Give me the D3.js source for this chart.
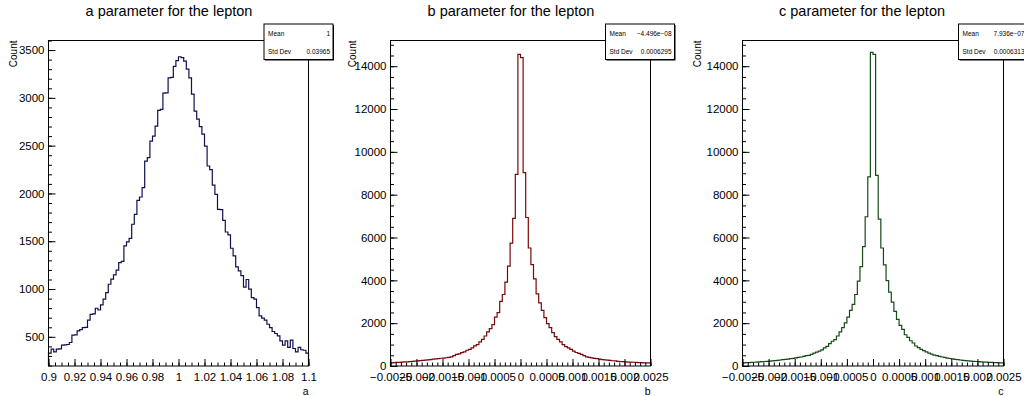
<!DOCTYPE html>
<html>
<head>
<meta charset="utf-8">
<script src="https://cdn.jsdelivr.net/npm/d3@7"></script>
<style>
body{margin:0;background:#fff}
svg{display:block}
text{font-family:"Liberation Sans",Arial,Helvetica,sans-serif}
</style>
</head>
<body>
<svg id="chart" width="1024" height="396"></svg>
<script>
// ---- data ----
const titles = ["a parameter for the lepton", "b parameter for the lepton", "c parameter for the lepton"];
const axisNames = ["a", "b", "c"];
const yTitle = "Count";

const aRange = [0.9, 1.1];
const bRange = [-0.0025, 0.0025];
const cRange = [-0.0025, 0.0025];

const aCounts = [
  330, 371, 343, 371, 375, 413, 415, 420, 441, 517,
  520, 563, 575, 597, 600, 674, 736, 740, 799, 781,
  834, 894, 963, 1050, 1103, 1148, 1197, 1277, 1290, 1451,
  1493, 1531, 1678, 1782, 1928, 1963, 2060, 2339, 2374, 2548,
  2600, 2705, 2870, 2880, 3050, 3053, 3210, 3215, 3330, 3390,
  3430, 3420, 3384, 3300, 3210, 3040, 2862, 2778, 2700, 2621,
  2496, 2287, 2250, 2087, 1990, 1834, 1830, 1719, 1597, 1566,
  1427, 1347, 1232, 1190, 1140, 1020, 1100, 1000, 911, 894,
  806, 719, 695, 674, 632, 597, 556, 535, 510, 458,
  413, 458, 389, 465, 378, 343, 389, 365, 360, 330
];
const bCounts = [
  150, 160, 165, 172, 180, 188, 196, 205, 215, 225,
  238, 250, 262, 272, 290, 300, 318, 330, 348, 362,
  372, 385, 400, 430, 480, 540, 570, 620, 660, 735,
  780, 845, 940, 1000, 1125, 1245, 1400, 1590, 1745, 1930,
  2285, 2490, 3015, 3340, 3915, 4660, 5740, 6890, 8950, 14550,
  14400, 9030, 6935, 5510, 4735, 4070, 3370, 2950, 2595, 2255,
  1975, 1790, 1560, 1370, 1245, 1125, 1000, 905, 845, 780,
  690, 630, 585, 540, 480, 430, 400, 380, 355, 340,
  320, 300, 290, 270, 260, 245, 235, 220, 210, 205,
  195, 185, 180, 175, 165, 160, 155, 150, 150, 145
];
const cCounts = [
  150, 155, 160, 170, 175, 185, 190, 200, 210, 220,
  230, 240, 255, 265, 280, 295, 310, 325, 345, 360,
  380, 400, 420, 450, 480, 500, 540, 600, 645, 690,
  750, 845, 920, 1045, 1155, 1230, 1400, 1590, 1790, 2010,
  2285, 2595, 2875, 3340, 3960, 4640, 5570, 6970, 8830, 14650,
  14550, 8905, 6860, 5510, 4720, 3990, 3450, 2985, 2550, 2180,
  1900, 1710, 1460, 1335, 1180, 1075, 935, 860, 780, 720,
  660, 600, 555, 510, 480, 450, 420, 400, 370, 350,
  330, 310, 295, 280, 265, 250, 240, 230, 220, 210,
  200, 195, 185, 180, 170, 165, 160, 155, 150, 145
];

const aXTicks = [0.9, 0.92, 0.94, 0.96, 0.98, 1, 1.02, 1.04, 1.06, 1.08, 1.1];
const aXTickLabels = ["0.9", "0.92", "0.94", "0.96", "0.98", "1", "1.02", "1.04", "1.06", "1.08", "1.1"];
const bcXTicks = [-0.0025, -0.002, -0.0015, -0.001, -0.0005, 0, 0.0005, 0.001, 0.0015, 0.002, 0.0025];
const bcXTickLabels = ["\u22120.0025", "\u22120.002", "\u22120.0015", "\u22120.001", "\u22120.0005", "0",
                       "0.0005", "0.001", "0.0015", "0.002", "0.0025"];
const aYTicks = [500, 1000, 1500, 2000, 2500, 3000, 3500];
const bcYTicks = [0, 2000, 4000, 6000, 8000, 10000, 12000, 14000];

const aYDomain = [195, 3600];
const bcYDomain = [0, 15200];

const meanLabels = ["1", "\u22124.496e\u221208", "7.936e\u221207"];
const stdLabels = ["0.03965", "0.0006295", "0.0006313"];

// ---- layout ----
const frameTop = 40.5, frameBottom = 366;
const panels = [
  {counts: aCounts, range: aRange, xTicks: aXTicks, xLabels: aXTickLabels, xMinor: 0.005,
   yTicks: aYTicks, yDomain: aYDomain, yMinor: 100,
   left: 48.5, right: 308.5, boxX: 264, titleX: 169, countX: 17, color: "#10104f"},
  {counts: bCounts, range: bRange, xTicks: bcXTicks, xLabels: bcXTickLabels, xMinor: 0.0001,
   yTicks: bcYTicks, yDomain: bcYDomain, yMinor: 500,
   left: 390.5, right: 650.5, boxX: 605.5, titleX: 511, countX: 356, color: "#780808"},
  {counts: cCounts, range: cRange, xTicks: bcXTicks, xLabels: bcXTickLabels, xMinor: 0.0001,
   yTicks: bcYTicks, yDomain: bcYDomain, yMinor: 500,
   left: 742.5, right: 1003.5, boxX: 958.5, titleX: 862, countX: 701, color: "#164a16"}
];

const svg = d3.select("#chart");

function stepValues(lo, hi, step) {
  const n = Math.floor((hi - lo) / step + 1e-6);
  return d3.range(n + 1).map(k => lo + k * step);
}

panels.forEach((p, pi) => {
  const g = svg.append("g");
  const x = d3.scaleLinear().domain(p.range).range([p.left, p.right]);
  const y = d3.scaleLinear().domain(p.yDomain).range([frameBottom, frameTop]);
  const nb = p.counts.length;
  const bw = (p.range[1] - p.range[0]) / nb;

  // histogram outline
  const pts = [[p.range[0], p.yDomain[0]]];
  p.counts.forEach((c, i) => {
    pts.push([p.range[0] + i * bw, c]);
    pts.push([p.range[0] + (i + 1) * bw, c]);
  });
  pts.push([p.range[1], p.yDomain[0]]);
  g.append("path")
    .attr("d", d3.line().x(d => x(d[0])).y(d => y(d[1]))(pts))
    .attr("fill", "none")
    .attr("stroke", p.color)
    .attr("stroke-width", 1.2);

  // frame
  g.append("rect")
    .attr("x", p.left).attr("y", frameTop)
    .attr("width", p.right - p.left).attr("height", frameBottom - frameTop)
    .attr("fill", "none").attr("stroke", "#000").attr("stroke-width", 1);

  // x axis minor + major
  const xMinorVals = stepValues(p.range[0], p.range[1], p.xMinor);
  g.append("g").attr("transform", `translate(0,${frameBottom})`)
    .call(d3.axisBottom(x).tickValues(xMinorVals).tickFormat("").tickSize(-3.5).tickSizeOuter(0))
    .call(a => a.select(".domain").remove());
  const xa = g.append("g").attr("transform", `translate(0,${frameBottom})`)
    .call(d3.axisBottom(x).tickValues(p.xTicks).tickFormat((d, i) => p.xLabels[i])
      .tickSize(-7).tickSizeOuter(0).tickPadding(7));
  xa.select(".domain").remove();
  xa.selectAll("text").attr("font-size", 11.5).attr("fill", "#000")
    .attr("font-family", "Liberation Sans, Arial, sans-serif");
  xa.selectAll("line").attr("stroke", "#000");

  // y axis minor + major
  const yMinorVals = stepValues(Math.ceil(p.yDomain[0] / p.yMinor) * p.yMinor, p.yDomain[1], p.yMinor);
  g.append("g").attr("transform", `translate(${p.left},0)`)
    .call(d3.axisLeft(y).tickValues(yMinorVals).tickFormat("").tickSize(-3.5).tickSizeOuter(0))
    .call(a => a.select(".domain").remove());
  const ya = g.append("g").attr("transform", `translate(${p.left},0)`)
    .call(d3.axisLeft(y).tickValues(p.yTicks).tickFormat(d3.format("d"))
      .tickSize(-7).tickSizeOuter(0).tickPadding(4));
  ya.select(".domain").remove();
  ya.selectAll("text").attr("font-size", 11.5).attr("fill", "#000")
    .attr("font-family", "Liberation Sans, Arial, sans-serif");
  ya.selectAll("line").attr("stroke", "#000");

  // titles
  g.append("text").attr("x", p.titleX).attr("y", 15.5)
    .attr("text-anchor", "middle").attr("font-size", 14.5).text(titles[pi]);
  g.append("text").attr("x", p.right).attr("y", 395)
    .attr("text-anchor", "end").attr("font-size", 10.5).text(axisNames[pi]);
  g.append("text")
    .attr("transform", `translate(${p.countX},${frameTop}) rotate(-90)`)
    .attr("text-anchor", "end").attr("font-size", 10).text(yTitle);

  // stats box
  const bx = p.boxX, by = 24, bwid = 69, bh = 35.5;
  g.append("rect").attr("x", bx + 1).attr("y", by + 1).attr("width", bwid).attr("height", bh)
    .attr("fill", "#000");
  g.append("rect").attr("x", bx).attr("y", by).attr("width", bwid).attr("height", bh)
    .attr("fill", "#fff").attr("stroke", "#000").attr("stroke-width", 1);
  const rows = [["Mean", meanLabels[pi]], ["Std Dev", stdLabels[pi]]];
  rows.forEach((r, ri) => {
    const ty = by + 12 + ri * 18;
    g.append("text").attr("x", bx + 4).attr("y", ty).attr("font-size", 6.5).text(r[0]);
    g.append("text").attr("x", bx + bwid - 3).attr("y", ty).attr("text-anchor", "end")
      .attr("font-size", 6.5).text(r[1]);
  });
});
</script>
</body>
</html>
